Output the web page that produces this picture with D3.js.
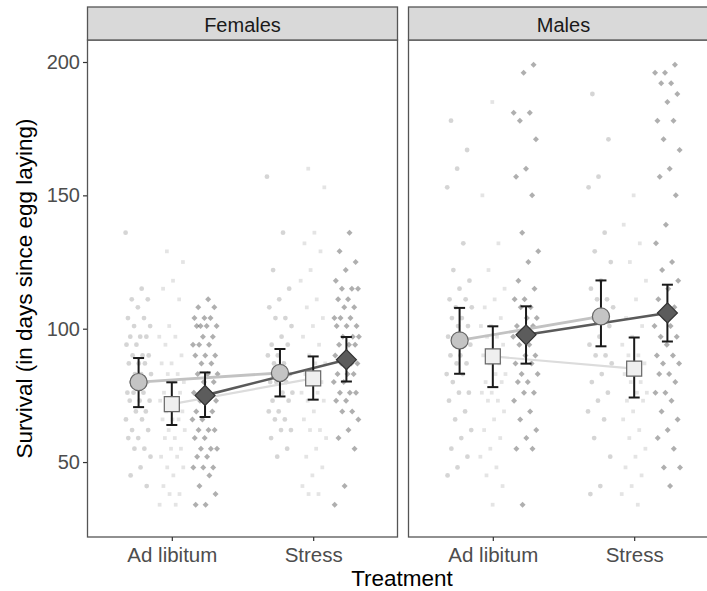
<!DOCTYPE html>
<html><head><meta charset="utf-8">
<script src="https://cdn.jsdelivr.net/npm/d3@7"></script>
<style>body{margin:0;background:#fff}svg{display:block}text{font-family:"Liberation Sans",Arial,sans-serif}</style>
</head><body>
<svg id="c" width="707" height="591"></svg>
<script>
const panels = ["Females", "Males"];
const treatments = ["Ad libitum", "Stress"];
const groups = ["G1", "G2", "G3"];
const yTicks = [50, 100, 150, 200];

// raw survival values (days) per panel / treatment / group
const rawFemAdG1 = [136,115,111,111,108,104,104,101,101,97,97,97,94,94,90,90,90,87,87,87,83,83,83,80,80,80,76,76,76,73,73,73,69,69,66,66,62,62,59,59,55,55,52,48,45,41];
const rawFemAdG2 = [129,125,118,115,111,101,97,97,94,90,87,87,83,83,80,80,76,76,73,73,73,69,69,66,66,66,62,62,59,59,55,55,52,52,48,48,45,41,38,38,34,34];
const rawFemAdG3 = [111,108,108,104,104,104,101,101,101,101,97,97,94,94,94,90,90,90,87,87,83,83,83,80,80,76,76,73,73,73,69,69,66,66,62,62,62,59,59,55,55,55,52,52,48,48,48,45,41,38,34,34];
const rawFemStG1 = [157,136,122,115,111,108,104,104,101,97,94,94,90,90,87,87,83,83,80,80,80,76,76,73,73,69,69,66,66,62,62,59,55,52];
const rawFemStG2 = [160,153,136,132,129,122,118,111,108,104,101,97,94,90,87,87,83,80,80,76,76,73,73,69,66,62,62,59,55,52,48,45,41,38,38];
const rawFemStG3 = [136,129,125,122,118,115,115,115,111,111,108,108,104,104,104,101,101,101,97,97,97,94,94,94,90,90,87,87,87,83,83,83,80,80,76,76,76,73,73,69,69,66,62,59,55,41,34];
const rawMalAdG1 = [178,167,160,153,132,122,118,115,111,111,108,108,104,104,101,101,97,97,94,94,90,90,87,87,83,83,80,76,76,73,69,66,62,59,55,52,48,45];
const rawMalAdG2 = [185,150,132,122,115,111,108,104,101,101,97,97,94,90,90,87,87,83,83,80,80,76,76,73,73,69,66,62,59,55,52,48,45,41,34];
const rawMalAdG3 = [199,196,181,181,178,171,160,157,150,136,129,125,118,115,111,111,108,108,104,104,101,101,97,97,94,94,90,90,87,87,83,83,80,80,76,76,73,69,66,62,59,55,55,34];
const rawMalStG1 = [188,171,157,153,136,129,125,118,115,111,111,108,104,104,101,97,94,90,90,87,83,80,76,73,69,66,59,52,41,38];
const rawMalStG2 = [150,139,132,125,118,111,104,101,97,94,90,90,87,87,83,80,80,76,76,73,73,69,66,62,59,55,52,48,45,41,38,34];
const rawMalStG3 = [199,196,196,192,192,188,185,178,178,171,167,160,157,150,139,132,125,122,118,115,111,108,104,101,101,97,97,94,90,90,87,87,83,83,80,76,76,73,69,66,62,59,55,48,48,41];

// estimated means and CI (order: G1,G2,G3)
const meanFemAd = [80, 71.7, 75];   const loFemAd = [70.6, 63.9, 66.9];  const hiFemAd = [89, 79.9, 83.6];
const meanFemSt = [83.4, 81.4, 88.4]; const loFemSt = [74.6, 73.4, 80.2]; const hiFemSt = [92.4, 89.6, 96.9];
const meanMalAd = [95.6, 89.6, 97.7]; const loMalAd = [83.1, 78.1, 86.9]; const hiMalAd = [107.8, 100.9, 108.4];
const meanMalSt = [104.6, 85, 105.9]; const loMalSt = [93.4, 74.2, 95.2]; const hiMalSt = [118.1, 96.7, 116.5];

const raw = {
  Females: {"Ad libitum": [rawFemAdG1, rawFemAdG2, rawFemAdG3], "Stress": [rawFemStG1, rawFemStG2, rawFemStG3]},
  Males:   {"Ad libitum": [rawMalAdG1, rawMalAdG2, rawMalAdG3], "Stress": [rawMalStG1, rawMalStG2, rawMalStG3]}
};
const est = {
  Females: {"Ad libitum": [meanFemAd, loFemAd, hiFemAd], "Stress": [meanFemSt, loFemSt, hiFemSt]},
  Males:   {"Ad libitum": [meanMalAd, loMalAd, hiMalAd], "Stress": [meanMalSt, loMalSt, hiMalSt]}
};

const svg = d3.select("#c");
const pTop = 40, pBot = 537, stripTop = 7;
const panelX = [[87, 398], [408, 719]];
const y = d3.scaleLinear().domain([21.9, 208.25]).range([pBot, pTop]);

const ptFill = ["rgba(150,150,150,0.4)", "rgba(185,185,185,0.38)", "rgba(95,95,95,0.5)"];
const meanFill = ["#c4c4c4", "#efefef", "#5c5c5c"];
const meanStroke = ["#666", "#666", "#333"];
const lineCol = ["#c2c2c2", "#dcdcdc", "#5a5a5a"];
const lineW = [2.8, 2.2, 2.6];
const FONT = '"Liberation Sans",Arial,sans-serif';

function shape(g, size) {
  if (g === 0) return d3.symbol(d3.symbolCircle, size)();
  return d3.symbol(d3.symbolSquare, size)();
}
function rot(g) { return g === 2 ? " rotate(45)" : ""; }

const dg = svg.append("defs");
panels.forEach((p, pi) => {
  const [x0, x1] = panelX[pi];
  dg.append("clipPath").attr("id", "clip" + pi).append("rect")
    .attr("x", x0).attr("y", pTop).attr("width", x1 - x0).attr("height", pBot - pTop);
});

panels.forEach((p, pi) => {
  const [x0, x1] = panelX[pi];
  const x = d3.scalePoint().domain(treatments).range([x0, x1]).padding(0.6);
  const dodge = d3.scalePoint().domain(groups).range([-x.step() * 0.235, x.step() * 0.235]);
  const g = svg.append("g");
  const inner = g.append("g").attr("clip-path", `url(#clip${pi})`);

  // raw points
  treatments.forEach(t => {
    raw[p][t].forEach((vals, gi) => {
      inner.selectAll(null).data(vals).join("path")
        .attr("transform", (v, i) => {
          const j = (((i * 0.6180339 + gi * 0.31 + pi * 0.17) % 1) - 0.5) * 26;
          return `translate(${x(t) + dodge(groups[gi]) + j},${y(v)})` + rot(gi);
        })
        .attr("d", shape(gi, gi === 2 ? 18 : gi === 1 ? 14 : 18))
        .attr("fill", ptFill[gi]);
    });
  });

  // lines between treatments
  groups.forEach((gname, gi) => {
    const pts = treatments.map(t => [x(t) + dodge(gname), y(est[p][t][0][gi])]);
    inner.append("path").attr("d", d3.line()(pts))
      .attr("stroke", lineCol[gi]).attr("stroke-width", lineW[gi]).attr("fill", "none");
  });

  // error bars
  groups.forEach((gname, gi) => {
    treatments.forEach(t => {
      const cx = x(t) + dodge(gname);
      const [m, lo, hi] = est[p][t];
      inner.append("line").attr("x1", cx).attr("x2", cx).attr("y1", y(lo[gi])).attr("y2", y(hi[gi]))
        .attr("stroke", "#1a1a1a").attr("stroke-width", 2);
      [lo[gi], hi[gi]].forEach(v => inner.append("line").attr("x1", cx - 5.5).attr("x2", cx + 5.5)
        .attr("y1", y(v)).attr("y2", y(v)).attr("stroke", "#1a1a1a").attr("stroke-width", 2));
    });
  });
  // means
  groups.forEach((gname, gi) => {
    treatments.forEach(t => {
      const cx = x(t) + dodge(gname);
      inner.append("path").attr("transform", `translate(${cx},${y(est[p][t][0][gi])})` + rot(gi))
        .attr("d", shape(gi, gi === 0 ? 230 : gi === 1 ? 225 : 200))
        .attr("fill", meanFill[gi]).attr("stroke", meanStroke[gi]).attr("stroke-width", 1.2);
    });
  });

  // panel border
  g.append("rect").attr("x", x0 + 0.5).attr("y", pTop).attr("width", x1 - x0 - 1).attr("height", pBot - pTop)
    .attr("fill", "none").attr("stroke", "#555").attr("stroke-width", 1.3);
  // strip
  g.append("rect").attr("x", x0 + 0.5).attr("y", stripTop).attr("width", x1 - x0 - 1).attr("height", pTop - stripTop)
    .attr("fill", "#d9d9d9").attr("stroke", "#555").attr("stroke-width", 1.3);
  g.append("text").attr("x", (x0 + x1) / 2).attr("y", 31.5)
    .attr("text-anchor", "middle").attr("font-size", 20).attr("fill", "#1a1a1a").text(p);

  // x axis
  const xa = g.append("g").attr("transform", `translate(0,${pBot})`)
    .call(d3.axisBottom(x).tickSize(4).tickPadding(6));
  xa.select(".domain").remove();
  xa.selectAll(".tick line").attr("stroke", "#333").attr("stroke-width", 1.2);
  xa.selectAll(".tick text").attr("font-size", 20.5).attr("fill", "#4d4d4d").attr("dy", "0.71em")
    .style("font-family", FONT);
});

// y axis
const ya = svg.append("g").attr("transform", `translate(87,0)`)
  .call(d3.axisLeft(y).tickValues(yTicks).tickSize(4).tickPadding(3));
ya.select(".domain").remove();
ya.selectAll(".tick line").attr("stroke", "#333").attr("stroke-width", 1.2);
ya.selectAll(".tick text").attr("font-size", 20).attr("fill", "#4d4d4d")
  .style("font-family", FONT);

svg.append("text").attr("transform", `translate(32,${(pTop + pBot) / 2}) rotate(-90)`)
  .attr("text-anchor", "middle").attr("font-size", 22.5).attr("fill", "#000")
  .text("Survival (in days since egg laying)");
svg.append("text").attr("x", 402).attr("y", 586).attr("text-anchor", "middle")
  .attr("font-size", 22.5).attr("fill", "#000").text("Treatment");
</script>
</body></html>
